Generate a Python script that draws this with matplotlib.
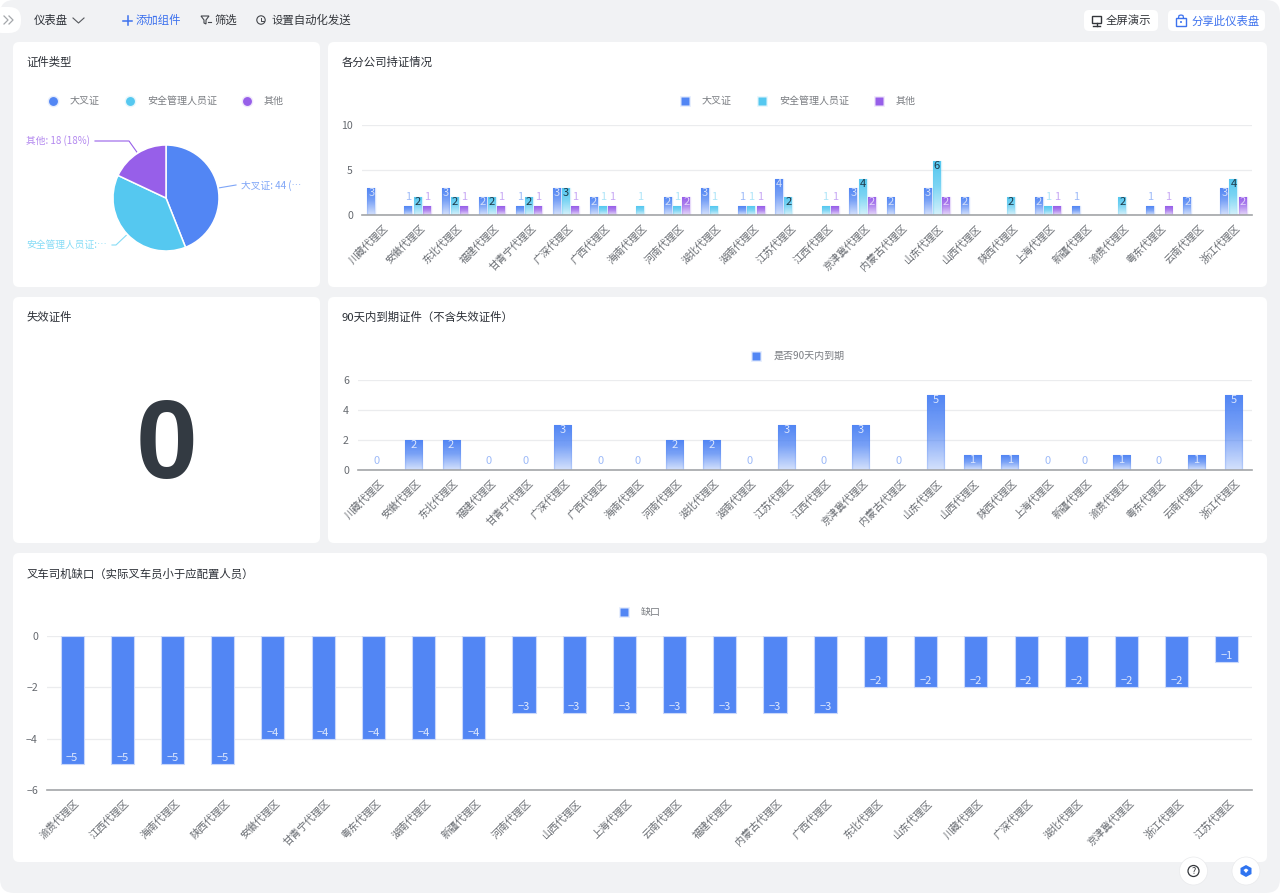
import numpy as np
import matplotlib
matplotlib.use("Agg")
import matplotlib.pyplot as plt
from matplotlib.colors import LinearSegmentedColormap, to_rgba
from matplotlib.lines import Line2D
from matplotlib.patches import FancyBboxPatch, Circle, Rectangle, Polygon
from matplotlib.transforms import ScaledTranslation

plt.rcParams['font.family'] = ['Noto Sans CJK SC', 'DejaVu Sans']
plt.rcParams['axes.unicode_minus'] = True

W, H = 1280, 893
BLUE = '#5286f4'
CYAN = '#55c8f0'
PURPLE = '#975fe9'
TITLE_COLOR = '#2b2f36'
TICK_COLOR = '#666a70'

regions = ['川藏代理区', '安徽代理区', '东北代理区', '福建代理区', '甘青宁代理区', '广深代理区',
           '广西代理区', '海南代理区', '河南代理区', '湖北代理区', '湖南代理区', '江苏代理区',
           '江西代理区', '京津冀代理区', '内蒙古代理区', '山东代理区', '山西代理区', '陕西代理区',
           '上海代理区', '新疆代理区', '渝贵代理区', '粤东代理区', '云南代理区', '浙江代理区']

forklift = [3, 1, 3, 2, 1, 3, 2, 0, 2, 3, 1, 4, 0, 3, 2, 3, 2, 0, 2, 1, 0, 1, 2, 3]
safety = [0, 2, 2, 2, 2, 3, 1, 1, 1, 1, 1, 2, 1, 4, 0, 6, 0, 2, 1, 0, 2, 0, 0, 4]
other = [0, 1, 1, 1, 1, 1, 1, 0, 2, 0, 1, 0, 1, 2, 0, 2, 0, 0, 1, 0, 0, 1, 0, 2]
expiring = [0, 2, 2, 0, 0, 3, 0, 0, 2, 2, 0, 3, 0, 3, 0, 5, 1, 1, 0, 0, 1, 0, 1, 5]

gap_regions = ['渝贵代理区', '江西代理区', '海南代理区', '陕西代理区', '安徽代理区', '甘青宁代理区',
               '粤东代理区', '湖南代理区', '新疆代理区', '河南代理区', '山西代理区', '上海代理区',
               '云南代理区', '福建代理区', '内蒙古代理区', '广西代理区', '东北代理区', '山东代理区',
               '川藏代理区', '广深代理区', '湖北代理区', '京津冀代理区', '浙江代理区', '江苏代理区']
gap = [-5, -5, -5, -5, -4, -4, -4, -4, -4, -3, -3, -3, -3, -3, -3, -3,
       -2, -2, -2, -2, -2, -2, -2, -1]

pie_values = [44, 38, 18]
pie_names = ['大叉证', '安全管理人员证', '其他']
pie_colors = [BLUE, CYAN, PURPLE]

fig = plt.figure(figsize=(W / 100, H / 100), dpi=100, facecolor='white')

# page layer, everything in pixel coordinates
bg = fig.add_axes([0, 0, 1, 1], zorder=0)
bg.set_xlim(0, W)
bg.set_ylim(H, 0)
bg.axis('off')


def rounded(x0, y0, x1, y1, r=6, fc='white', ec='none', lw=0, z=1):
    bg.add_patch(FancyBboxPatch((x0, y0), x1 - x0, y1 - y0,
                                boxstyle=f'round,pad=0,rounding_size={r}',
                                fc=fc, ec=ec, lw=lw, zorder=z))


def px_axes(x0, y_top, x1, y_bottom):
    ax = fig.add_axes([x0 / W, 1 - y_bottom / H, (x1 - x0) / W, (y_bottom - y_top) / H],
                      facecolor='none', zorder=2)
    return ax


def gradient_bars(ax, xs, values, width, color):
    cmap = LinearSegmentedColormap.from_list(
        'g', [(0, to_rgba(color, 0.26)), (0.55, to_rgba(color, 0.78)), (1, to_rgba(color, 1.0))])
    bars = ax.bar(xs, values, width, facecolor='none',
                  edgecolor=to_rgba(color, 0.22), linewidth=1.0, zorder=2)
    for b in bars:
        if b.get_height() == 0:
            continue
        x0 = b.get_x()
        ax.imshow(np.linspace(1, 0, 32).reshape(-1, 1), cmap=cmap, aspect='auto',
                  extent=(x0, x0 + b.get_width(), 0, b.get_height()),
                  interpolation='bilinear', zorder=2.5)
    return bars


def style_axis(ax, labels, ylim, yticks):
    ax.set_xlim(-0.5, len(labels) - 0.5)
    ax.set_ylim(*ylim)
    ax.set_yticks(yticks)
    ax.set_xticks(range(len(labels)))
    ax.set_xticklabels(labels, rotation=45, ha='right', va='top', rotation_mode='anchor',
                       fontsize=7.3, color=TICK_COLOR)
    ax.tick_params(axis='x', length=0, pad=5.5)
    ax.tick_params(axis='y', length=0, pad=6.5, labelsize=7.6, labelcolor=TICK_COLOR)
    # labels sit a little to the right of the tick
    shift = ScaledTranslation(2 / 100, 0, fig.dpi_scale_trans)
    for lab in ax.get_xticklabels():
        lab.set_transform(lab.get_transform() + shift)
    for name in ['top', 'left', 'right']:
        ax.spines[name].set_visible(False)
    ax.spines['bottom'].set_color('#a3a5a8')
    ax.spines['bottom'].set_linewidth(1.2)
    ax.set_axisbelow(True)
    ax.grid(axis='y', color='#ebecee', linewidth=0.9)
    ax.grid(axis='x', visible=False)


def add_legend(ax, names, colors, center_px, marker='s'):
    handles = [Line2D([], [], linestyle='none', marker=marker, markersize=6.4, color=c,
                      markeredgecolor=to_rgba(c, 0.15), markeredgewidth=2.0) for c in colors]
    leg = fig.legend(handles, names, loc='center', ncol=len(names), frameon=False,
                     fontsize=7.2, labelcolor='#7a7d82', handlelength=1.0, handletextpad=1.2,
                     columnspacing=2.5, borderpad=0, borderaxespad=0,
                     bbox_to_anchor=(center_px[0] / W, 1 - center_px[1] / H))
    leg.set_zorder(3)
    return leg


def value_label(ax, x, y, text, dy, color, size=8):
    ax.annotate(text, (x, y), xytext=(0, dy), textcoords='offset pixels', ha='center', va='center',
                fontsize=size, color=color, zorder=4)


# page background and cards
bg.add_patch(Rectangle((0, 0), W, H, fc='white', ec='none', zorder=0))
rounded(0, 0, W, H, r=14, fc='#f1f2f4', z=0.5)
rounded(13, 42, 320, 287)
rounded(328, 42, 1267, 287)
rounded(13, 297, 320, 543)
rounded(328, 297, 1267, 543)
rounded(13, 553, 1267, 862)

for x, y, t in [(26.5, 62.5, '证件类型'), (342, 62.5, '各分公司持证情况'), (27, 317.5, '失效证件'),
                (342, 317.5, '90天内到期证件（不含失效证件）'), (27, 574, '叉车司机缺口（实际叉车员小于应配置人员）')]:
    bg.text(x, y, t, fontsize=8.2, fontweight='medium', color=TITLE_COLOR, va='center', zorder=3)

# toolbar
rounded(-10, 7, 21, 33, r=12, z=2)
for dx in (0, 5):
    bg.plot(np.array([4, 8, 4]) + dx, [16, 20, 24], color='#a4a7ab', lw=0.9, zorder=3)
bg.text(34, 20.5, '仪表盘', fontsize=8.2, color=TITLE_COLOR, va='center', zorder=3)
bg.plot([73, 78.5, 84], [18, 23, 18], color='#55585d', lw=0.8, zorder=3)
bg.plot([123, 132], [20.5, 20.5], color='#3d72ee', lw=1.1, zorder=3)
bg.plot([127.5, 127.5], [16, 25], color='#3d72ee', lw=1.1, zorder=3)
bg.text(136, 20.5, '添加组件', fontsize=8.2, color='#3d72ee', va='center', zorder=3)
bg.add_patch(Polygon([(201, 16), (209, 16), (206, 20), (206, 24), (204, 23), (204, 20)],
                     fc='none', ec='#44474c', lw=0.8, zorder=3))
bg.plot([208, 211], [21.5, 21.5], color='#44474c', lw=0.8, zorder=3)
bg.text(215, 20.5, '筛选', fontsize=8.2, color='#33363b', va='center', zorder=3)
bg.add_patch(Circle((261, 20), 4.2, fc='none', ec='#44474c', lw=0.8, zorder=3))
bg.plot([261, 261, 263.5], [17.5, 20.5, 20.5], color='#44474c', lw=0.7, zorder=3)
bg.text(271, 20.5, '设置自动化发送', fontsize=8.2, color='#33363b', va='center', zorder=3)

rounded(1084, 10, 1158, 31, r=5, z=2)
rounded(1168, 10, 1265, 31, r=5, z=2)
bg.add_patch(Rectangle((1092, 16), 9, 7, fc='none', ec='#33363b', lw=1.0, zorder=3))
bg.plot([1096.5, 1096.5], [23, 26], color='#33363b', lw=1.0, zorder=3)
bg.plot([1093, 1100], [26, 26], color='#33363b', lw=1.0, zorder=3)
bg.text(1106, 21, '全屏演示', fontsize=8.2, color='#33363b', va='center', zorder=3)
bg.add_patch(Rectangle((1176, 18), 10, 8, fc='none', ec='#3d72ee', lw=1.0, zorder=3))
bg.plot([1178.5, 1179, 1181, 1183, 1183.5], [18, 15.5, 15, 15.5, 18], color='#3d72ee', lw=0.9, zorder=3)
bg.add_patch(Circle((1181, 22), 1, fc='#3d72ee', ec='none', zorder=3))
bg.text(1192, 21, '分享此仪表盘', fontsize=8.2, color='#3d72ee', va='center', zorder=3)

# bottom right buttons
for cx in (1193.5, 1246):
    bg.add_patch(Circle((cx, 871), 14, fc='white', ec='#e9eaec', lw=0.5, zorder=3))
bg.add_patch(Circle((1193.5, 871), 5.5, fc='none', ec='#33363b', lw=0.9, zorder=4))
bg.text(1193.5, 871, '?', fontsize=6.5, color='#33363b', ha='center', va='center', zorder=4)
bg.add_patch(Polygon([(1246, 865), (1251.5, 868), (1251.5, 874), (1246, 877), (1240.5, 874), (1240.5, 868)],
                     fc='#2f74f0', ec='none', zorder=4))
bg.add_patch(Polygon([(1246, 868.5), (1248.5, 870), (1246, 873), (1243.5, 870)], fc='white', ec='none', zorder=5))

# pie
pie_ax = px_axes(113, 145, 219, 251)
wedges, _ = pie_ax.pie(pie_values, colors=pie_colors, startangle=90, counterclock=False,
                       radius=1.0, wedgeprops={'edgecolor': 'white', 'linewidth': 1.1})
pie_ax.set_xlim(-1, 1)
pie_ax.set_ylim(-1, 1)
cx, cy, radius = 166, 198, 53
leaders = [[(236, 185)], [(116, 245), (112, 245)], [(129, 141), (95, 141)]]
pie_text = [(241, 185.5, '大叉证: 44 (…', 'left', '#7ea5f7'),
            (107, 245, '安全管理人员证:…', 'right', '#86dcf6'),
            (90, 141, '其他: 18 (18%)', 'right', '#b388ef')]
for w, leader, lab, col in zip(wedges, leaders, pie_text, pie_colors):
    mid = np.deg2rad((w.theta1 + w.theta2) / 2)
    start = (cx + radius * 1.03 * np.cos(mid), cy - radius * 1.03 * np.sin(mid))
    pts = [start] + leader
    bg.plot([p[0] for p in pts], [p[1] for p in pts], color=lab[4] if col != PURPLE else PURPLE,
            lw=0.8, zorder=3)
    bg.text(lab[0], lab[1], lab[2], ha=lab[3], va='center', fontsize=7.0, color=lab[4], zorder=3)
add_legend(pie_ax, pie_names, pie_colors, (166, 101), marker='o')

# holders per company
ax1 = px_axes(362, 125, 1252, 215)
x = np.arange(len(regions))
series = [(forklift, BLUE, -0.248, '#d3def9', '#9dbaf8'),
          (safety, CYAN, 0.0, '#1f3b4b', '#aee5f8'),
          (other, PURPLE, 0.248, '#e3d3fa', '#c7a8f4')]
for vals, col, off, inside, above in series:
    gradient_bars(ax1, x + off, vals, 0.215, col)
    for xi, v in zip(x + off, vals):
        if v == 1:
            value_label(ax1, xi, v, str(v), 9.5, above)
        elif v > 1:
            value_label(ax1, xi, v, str(v), -5, inside)
style_axis(ax1, regions, (0, 10), [0, 5, 10])
add_legend(ax1, pie_names, pie_colors, (798, 101))

# expired card
bg.text(166, 449, '0', fontsize=80, fontweight='bold', family=['Liberation Sans', 'DejaVu Sans'],
        color='#333a42', ha='center', va='center', zorder=3)

# expiring in 90 days
ax2 = px_axes(358, 380, 1252, 470)
gradient_bars(ax2, x, expiring, 0.46, BLUE)
for xi, v in zip(x, expiring):
    if v == 0:
        value_label(ax2, xi, v, '0', 9.5, '#9dbaf8')
    else:
        value_label(ax2, xi, v, str(v), -5, '#dce6fc')
style_axis(ax2, regions, (0, 6), [0, 2, 4, 6])
add_legend(ax2, ['是否90天内到期'], [BLUE], (798, 356))

# forklift driver gap
ax3 = px_axes(47, 636, 1252, 790)
x3 = np.arange(len(gap_regions))
ax3.bar(x3, gap, 0.46, color=BLUE, edgecolor='#c9d8fb', linewidth=0.8, zorder=2)
for xi, v in zip(x3, gap):
    value_label(ax3, xi, v, f'\u2212{abs(v)}', 6, '#dfe8fc')
style_axis(ax3, gap_regions, (-6, 0), [-6, -4, -2, 0])
add_legend(ax3, ['缺口'], [BLUE], (640, 612))

fig.savefig('out.png', dpi=100)
